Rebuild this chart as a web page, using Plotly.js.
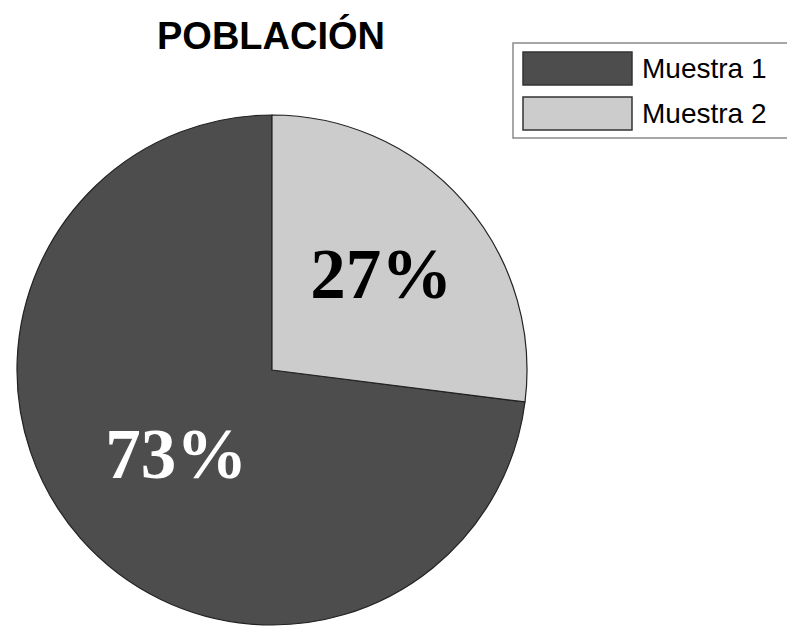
<!DOCTYPE html>
<html>
<head>
<meta charset="utf-8">
<script src="https://cdn.plot.ly/plotly-3.0.1.min.js"></script>
<style>html,body{margin:0;padding:0;background:#fff;}</style>
</head>
<body>
<div id="chart" style="width:787px;height:626px;"></div>
<script>
const labels = ["Muestra 1", "Muestra 2"];
const values = [73, 27];
const colors = ["#4d4d4d", "#cccccc"];
const textColors = ["#ffffff", "#000000"];
const chartTitle = "POBLACIÓN";

const W = 787, H = 626;
const px = x => x / W;
const py = y => 1 - y / H;

const total = values.reduce((a, b) => a + b, 0);
const startRotation = values[1] / total * 360;

const shapes = [];
const annotations = [];
// legend box
shapes.push({type: "rect", xref: "paper", yref: "paper",
  x0: px(513), x1: px(800), y0: py(138), y1: py(43),
  line: {color: "#8a8a8a", width: 1.5}, fillcolor: "rgba(255,255,255,0)"});
labels.forEach((lab, i) => {
  const top = 52 + i * 45, bot = top + 33;
  shapes.push({type: "rect", xref: "paper", yref: "paper",
    x0: px(523), x1: px(632), y0: py(bot), y1: py(top),
    line: {color: "#333333", width: 1.5}, fillcolor: colors[i]});
  annotations.push({xref: "paper", yref: "paper", x: px(640), y: py((top + bot) / 2),
    xanchor: "left", yanchor: "middle", showarrow: false, text: lab,
    font: {family: "Liberation Sans, Arial, sans-serif", size: 28, color: "#000"}});
});

const data = [{
  type: "pie",
  labels: labels,
  values: values,
  sort: false,
  direction: "clockwise",
  rotation: startRotation,
  marker: {colors: colors, line: {color: "#222222", width: 1.2}},
  textinfo: "percent",
  texttemplate: "%{percent:.0%}",
  textposition: "inside",
  insidetextorientation: "horizontal",
  insidetextfont: {family: "Liberation Serif, Times New Roman, serif", size: 71, color: textColors, weight: "bold"},
  hoverinfo: "label+percent",
  showlegend: false,
  domain: {x: [px(17), px(527)], y: [py(625), py(115)]}
}];

const layout = {
  width: W, height: H,
  margin: {l: 0, r: 0, t: 0, b: 0},
  paper_bgcolor: "#ffffff",
  showlegend: false,
  title: {text: chartTitle, x: px(271), xanchor: "center", y: py(36), yanchor: "middle",
    font: {family: "Liberation Sans, Arial, sans-serif", size: 38, color: "#000", weight: "bold"}},
  shapes: shapes,
  annotations: annotations
};

Plotly.newPlot("chart", data, layout, {displayModeBar: false, staticPlot: true});
</script>
</body>
</html>
